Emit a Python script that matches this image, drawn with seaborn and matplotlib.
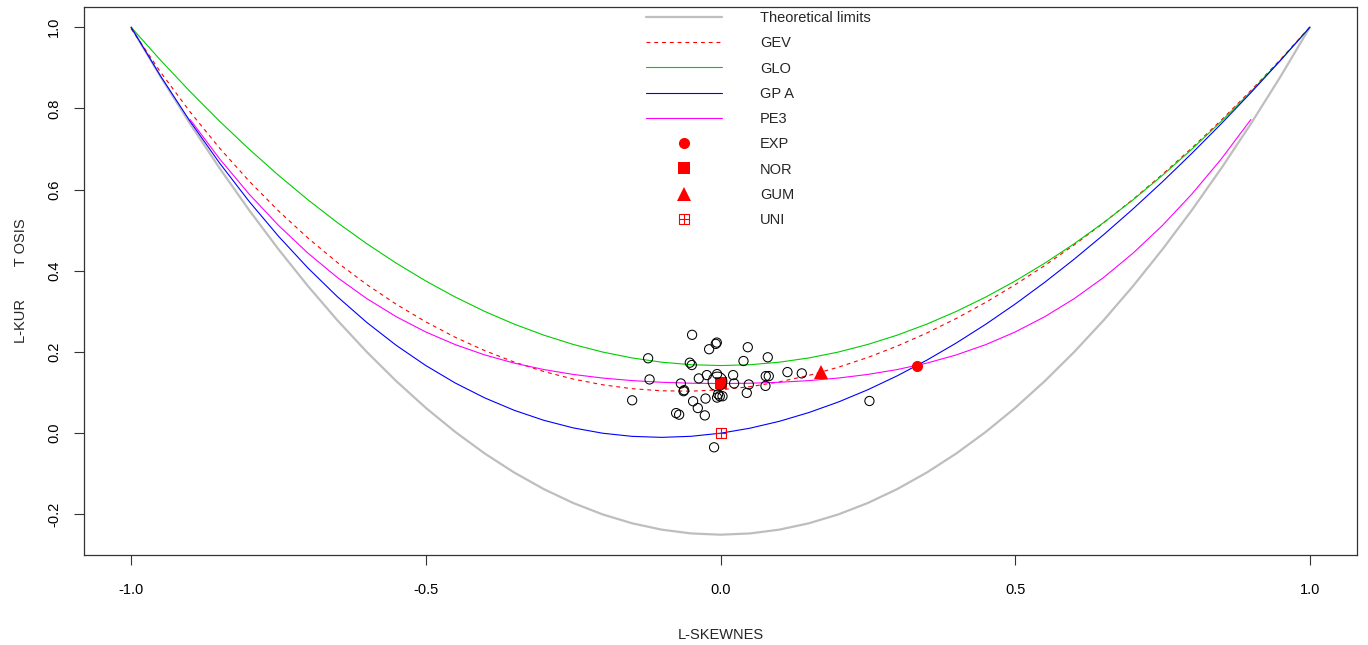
import numpy as np
import pandas as pd
import matplotlib
matplotlib.use("Agg")
import matplotlib.pyplot as plt
from matplotlib.lines import Line2D
from matplotlib.path import Path
import seaborn as sns

# ---------------- data ----------------
tau3_grid = [-1.0, -0.95, -0.9, -0.85, -0.8, -0.75, -0.7, -0.65, -0.6, -0.55, -0.5,
             -0.45, -0.4, -0.35, -0.3, -0.25, -0.2, -0.15, -0.1, -0.05, 0.0,
             0.05, 0.1, 0.15, 0.2, 0.25, 0.3, 0.35, 0.4, 0.45, 0.5,
             0.55, 0.6, 0.65, 0.7, 0.75, 0.8, 0.85, 0.9, 0.95, 1.0]
theoretical = [1.0, 0.878125, 0.7625, 0.653125, 0.55, 0.453125, 0.3625, 0.278125, 0.2, 0.128125, 0.0625,
               0.003125, -0.05, -0.096875, -0.1375, -0.171875, -0.2, -0.221875, -0.2375, -0.246875, -0.25,
               -0.246875, -0.2375, -0.221875, -0.2, -0.171875, -0.1375, -0.096875, -0.05, 0.003125, 0.0625,
               0.128125, 0.2, 0.278125, 0.3625, 0.453125, 0.55, 0.653125, 0.7625, 0.878125, 1.0]
gev = [0.9966, 0.88934, 0.7916, 0.70248, 0.6214, 0.54766, 0.4808, 0.42041, 0.3661, 0.31743, 0.2743,
       0.23630, 0.2034, 0.17536, 0.1521, 0.13342, 0.1193, 0.10970, 0.1045, 0.10359, 0.1070,
       0.11467, 0.1265, 0.14251, 0.1626, 0.18671, 0.2148, 0.24683, 0.2827, 0.32240, 0.3659,
       0.41299, 0.4638, 0.51819, 0.5762, 0.63777, 0.7030, 0.77176, 0.8443, 0.92057, 1.0008]
glo = [1.0, 0.91875, 0.8417, 0.76875, 0.7, 0.63542, 0.575, 0.51875, 0.4667, 0.41875, 0.375,
       0.33542, 0.3, 0.26875, 0.2417, 0.21875, 0.2, 0.18542, 0.175, 0.16875, 0.1667,
       0.16875, 0.175, 0.18542, 0.2, 0.21875, 0.2417, 0.26875, 0.3, 0.33542, 0.375,
       0.41875, 0.4667, 0.51875, 0.575, 0.63542, 0.7, 0.76875, 0.8417, 0.91875, 1.0]
gpa = [1.0, 0.87963, 0.7683, 0.66566, 0.5714, 0.48529, 0.4070, 0.33621, 0.2727, 0.21629, 0.1667,
       0.12363, 0.0870, 0.05645, 0.0319, 0.01316, 0.0, -0.00773, -0.0102, -0.00758, 0.0,
       0.01238, 0.0294, 0.05097, 0.0769, 0.10714, 0.1415, 0.17991, 0.2222, 0.26835, 0.3182,
       0.37162, 0.4286, 0.48894, 0.5526, 0.61957, 0.6897, 0.76282, 0.8390, 0.91807, 1.0]
pe3_tau3 = [-0.9, -0.85, -0.8, -0.75, -0.7, -0.65, -0.6, -0.55, -0.5, -0.45, -0.4,
            -0.35, -0.3, -0.25, -0.2, -0.15, -0.1, -0.05, 0.0,
            0.05, 0.1, 0.15, 0.2, 0.25, 0.3, 0.35, 0.4, 0.45, 0.5,
            0.55, 0.6, 0.65, 0.7, 0.75, 0.8, 0.85, 0.9]
pe3 = [0.7729, 0.67613, 0.5894, 0.51204, 0.4436, 0.38349, 0.3314, 0.28688, 0.2494, 0.21822, 0.1929,
       0.17266, 0.1569, 0.14483, 0.1359, 0.12965, 0.1255, 0.12316, 0.1224,
       0.12316, 0.1255, 0.12965, 0.1359, 0.14483, 0.1569, 0.17266, 0.1929, 0.21822, 0.2494,
       0.28688, 0.3314, 0.38349, 0.4436, 0.51204, 0.5894, 0.67613, 0.7729]

sample_tau3 = [-0.0482, -0.0063, -0.0080, -0.0193, 0.0463, -0.1228, 0.0390, -0.0521, -0.0487,
               -0.1204, -0.0368, -0.0232, -0.0058, 0.0214, 0.0231, 0.0480, -0.0673, -0.0617,
               -0.0627, 0.0446, -0.1499, -0.0041, -0.0012, -0.0058, 0.0034, -0.0254, -0.0465,
               -0.0385, -0.0753, -0.0702, -0.0266, -0.0109, 0.0802, 0.0768, 0.0819, 0.1136,
               0.1379, 0.0763, 0.2527]
sample_tau4 = [0.2424, 0.2233, 0.2201, 0.2069, 0.2119, 0.1846, 0.1779, 0.1737, 0.1680,
               0.1325, 0.1350, 0.1432, 0.1457, 0.1432, 0.1226, 0.1201, 0.1226, 0.1060,
               0.1035, 0.0993, 0.0811, 0.0960, 0.0911, 0.0878, 0.0911, 0.0854, 0.0787,
               0.0620, 0.0496, 0.0457, 0.0439, -0.0347, 0.1871, 0.1407, 0.1407, 0.1506,
               0.1474, 0.1166, 0.0794]
mean_tau3 = [-0.0058]
mean_tau4 = [0.1283]

special_names = ["EXP", "NOR", "GUM", "UNI"]
special_tau3 = [0.3333, 0.0, 0.1699, 0.0]
special_tau4 = [0.1667, 0.1226, 0.1504, 0.0]

legend_labels = ["Theoretical limits", "GEV", "GLO", "GP A", "PE3", "EXP", "NOR", "GUM", "UNI"]

# ---------------- style ----------------
sns.set_theme(style="white")
plt.rcParams["font.family"] = ["Liberation Sans", "DejaVu Sans"]
FS = 10.5

fig = plt.figure(figsize=(13.68, 6.45), dpi=100)
ax = fig.add_axes([84 / 1368, 1 - 555 / 645, (1357 - 84) / 1368, (555 - 7) / 645])

grey = "#BEBEBE"
green = "#00CD00"

sns.lineplot(x=tau3_grid, y=theoretical, ax=ax, color=grey, linewidth=1.6, sort=False, zorder=2)
sns.lineplot(x=tau3_grid, y=gev, ax=ax, color="red", linewidth=0.8, sort=False, zorder=3)
ax.lines[-1].set_dashes([3.5, 3.5])
sns.lineplot(x=tau3_grid, y=glo, ax=ax, color=green, linewidth=0.8, sort=False, zorder=3)
sns.lineplot(x=tau3_grid, y=gpa, ax=ax, color="blue", linewidth=0.8, sort=False, zorder=3)
sns.lineplot(x=pe3_tau3, y=pe3, ax=ax, color="magenta", linewidth=0.8, sort=False, zorder=3)

# boxplus marker (R pch 12)
bp_verts = [(-1, -1), (1, -1), (1, 1), (-1, 1), (-1, -1), (0, -1), (0, 1), (-1, 0), (1, 0)]
bp_codes = [Path.MOVETO, Path.LINETO, Path.LINETO, Path.LINETO, Path.LINETO,
            Path.MOVETO, Path.LINETO, Path.MOVETO, Path.LINETO]
boxplus = Path(bp_verts, bp_codes)

special_markers = ["o", "s", "^", boxplus]
special_sizes = [8.0, 8.5, 10.0, 7.0]
for name, x, y, m, s in zip(special_names, special_tau3, special_tau4, special_markers, special_sizes):
    if name == "UNI":
        ax.plot([x], [y], marker=m, markersize=s, markerfacecolor="none",
                markeredgecolor="red", markeredgewidth=0.8, linestyle="none", zorder=4)
    else:
        ax.plot([x], [y], marker=m, markersize=s, color="red", markeredgewidth=0,
                linestyle="none", zorder=4)

df = pd.DataFrame({"t3": sample_tau3, "t4": sample_tau4})
sns.scatterplot(data=df, x="t3", y="t4", ax=ax, marker="o", s=44,
                facecolor="none", edgecolor="black", linewidth=0.75, zorder=5)
ax.plot(mean_tau3, mean_tau4, marker="o", markersize=13.5, markerfacecolor="none",
        markeredgecolor="black", markeredgewidth=0.75, linestyle="none", zorder=5)

# axes
ax.set_xlim(-1.08, 1.08)
ax.set_ylim(-0.30, 1.05)
ax.set_xticks([-1.0, -0.5, 0.0, 0.5, 1.0])
ax.set_xticklabels(["-1.0", "-0.5", "0.0", "0.5", "1.0"])
ax.set_yticks([-0.2, 0.0, 0.2, 0.4, 0.6, 0.8, 1.0])
ax.set_yticklabels(["-0.2", "0.0", "0.2", "0.4", "0.6", "0.8", "1.0"], rotation=90, va="center")
ax.tick_params(axis="both", which="major", length=7.5, width=0.8, color="#333333",
               labelsize=FS, labelcolor="black", direction="out",
               bottom=True, left=True)
ax.tick_params(axis="x", pad=13)
ax.tick_params(axis="y", pad=9)
for sp in ax.spines.values():
    sp.set_visible(True)
    sp.set_color("#333333")
    sp.set_linewidth(0.9)
ax.set_xlabel("L-SKEWNES", fontsize=FS, labelpad=22)
ax.set_ylabel("L-KUR        T OSIS", fontsize=FS, labelpad=14)
ax.grid(False)

# legend
handles = [
    Line2D([], [], color=grey, linewidth=1.6),
    Line2D([], [], color="red", linewidth=0.8, dashes=[3.5, 3.5]),
    Line2D([], [], color=green, linewidth=0.8),
    Line2D([], [], color="blue", linewidth=0.8),
    Line2D([], [], color="magenta", linewidth=0.8),
    Line2D([], [], color="red", marker="o", markersize=8.0, linestyle="none", markeredgewidth=0),
    Line2D([], [], color="red", marker="s", markersize=8.5, linestyle="none", markeredgewidth=0),
    Line2D([], [], color="red", marker="^", markersize=10.0, linestyle="none", markeredgewidth=0),
    Line2D([], [], marker=boxplus, markersize=7.0, markerfacecolor="none",
           markeredgecolor="red", markeredgewidth=0.8, linestyle="none"),
]
leg = ax.legend(handles, legend_labels, loc="upper left",
                bbox_to_anchor=(633 / 1368, 1 + 2 / 645), bbox_transform=fig.transFigure,
                frameon=False, fontsize=FS, handlelength=5.2, handletextpad=2.6,
                labelspacing=0.77, borderpad=0.4)

fig.savefig("out.png", dpi=100)
